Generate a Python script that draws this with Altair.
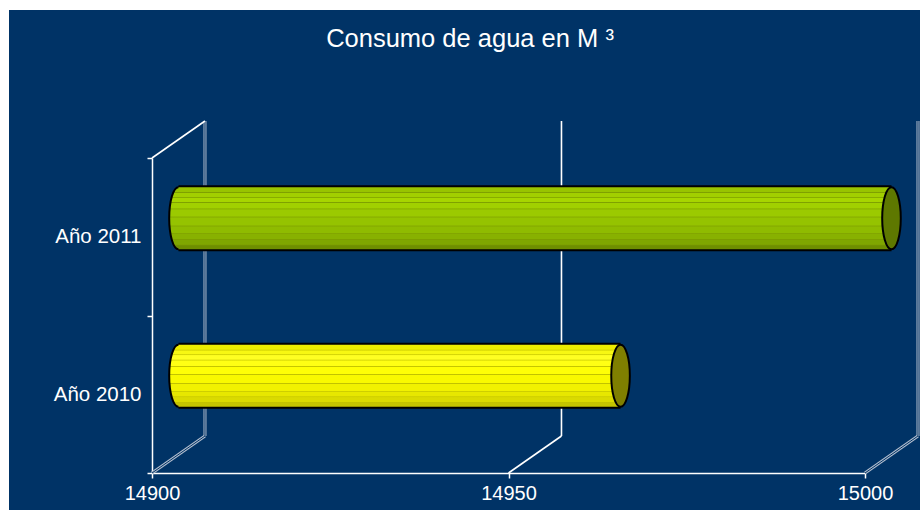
import altair as alt
import pandas as pd

# ---------------- data ----------------
categories = ["Año 2011", "Año 2010"]
values = [15000, 14962]
x_ticks = [14900, 14950, 15000]
x_min, x_max = 14900, 15000
title_text = "Consumo de agua en M ³"

# ---------------- styling ----------------
BG = "#003366"
FONT = "Liberation Sans"
PLOT_W, PLOT_H = 766, 352
FRONT_RANGE = [0, 713]          # front x axis pixels
Y_RANGE = [37, 352]             # front y axis pixels
DEPTH_PX_Y = 37                 # 3D depth (vertical)
DEPTH_X = 7.43                  # 3D depth in x units (back wall)
MID_X = DEPTH_X / 2
MID_PX_Y = DEPTH_PX_Y / 2

facet_edges = [0, 0.086, 0.162, 0.247, 0.35, 0.48, 0.625, 0.75, 0.84, 0.93, 1]
green_facets = ["#98C400", "#A2CF00", "#A7D500", "#A1D000", "#9BCA00",
                "#95C300", "#8FBB00", "#88B100", "#7FA600", "#6E8E00"]
yellow_facets = ["#EDED00", "#F8F812", "#FFFF22", "#FFFF14", "#FFFF06",
                 "#F9F900", "#F1F100", "#E7E700", "#DADA00", "#C4C400"]
body_facets = [green_facets, yellow_facets]
line_colors = ["#7C9C00", "#C2C200"]
cap_colors = ["#5E7800", "#7F7F00"]


def cyl_gradient(facets, line):
    stops = []
    n = len(facets)
    for i, c in enumerate(facets):
        a, b = facet_edges[i], facet_edges[i + 1]
        if i > 0:
            stops.append(alt.GradientStop(offset=a, color=line))
            stops.append(alt.GradientStop(offset=a + 0.012, color=c))
        else:
            stops.append(alt.GradientStop(offset=a, color=c))
        stops.append(alt.GradientStop(offset=(b - 0.012) if i < n - 1 else b, color=c))
    return alt.LinearGradient(gradient="linear", stops=stops, x1=0, x2=0, y1=0, y2=1)


ELL_H = 62
ELL_SHAPE = "M0,-1 A0.30,1 0 1,1 0,1 A0.30,1 0 1,1 0,-1 Z"

sx = alt.Scale(domain=[x_min, x_max], range=FRONT_RANGE, nice=False, zero=False)
sy = alt.Scale(domain=categories, range=Y_RANGE, paddingInner=0, paddingOuter=0)

x_axis = alt.Axis(values=x_ticks, title=None, format="d", labelColor="white",
                  labelFontSize=20, labelFont=FONT, labelPadding=5, labelFlush=False,
                  tickColor="white", tickSize=5, tickWidth=1.5,
                  domainColor="white", domainWidth=1.5, grid=False)
y_axis = alt.Axis(title=None, labelColor="white", labelFontSize=20.5, labelFont=FONT,
                  labelPadding=6, tickBand="extent", tickColor="white", tickSize=5,
                  tickWidth=1.5, domainColor="white", domainWidth=1.5, grid=False)


def X(field):
    return alt.X(field, scale=sx, axis=x_axis)


def Y(field):
    return alt.Y(field, scale=sy, axis=y_axis)


# ---------------- tables ----------------
ticks_df = pd.DataFrame({"v": x_ticks})
ticks_df["xb"] = ticks_df["v"] + DEPTH_X
walls_df = ticks_df[ticks_df["v"] != 14950]
grid_df = ticks_df[ticks_df["v"] == 14950]
corner_df = pd.DataFrame({"v": [x_min], "xb": [x_min + DEPTH_X]})
one = pd.DataFrame({"t": [title_text]})

layers = []

# white strips on top / left of the picture frame
layers.append(alt.Chart(one).mark_rect(color="white").encode(
    x=alt.value(-152), x2=alt.value(PLOT_W + 2), y=alt.value(-121), y2=alt.value(-111)))
layers.append(alt.Chart(one).mark_rect(color="white").encode(
    x=alt.value(-152), x2=alt.value(-143), y=alt.value(-121), y2=alt.value(PLOT_H + 37)))

# title
layers.append(alt.Chart(one).mark_text(color="white", fontSize=25.5, font=FONT,
                                       align="center", baseline="alphabetic").encode(
    text="t:N", x=alt.value(318), y=alt.value(-74)))

# faint double wall edges
for w, col in [(3, "#aebacb"), (1, BG)]:
    layers.append(alt.Chart(walls_df).mark_rule(color=col, strokeWidth=w).encode(
        x=X("xb:Q"), y=alt.value(0), y2=alt.value(Y_RANGE[1] - DEPTH_PX_Y)))
    layers.append(alt.Chart(walls_df).mark_rule(color=col, strokeWidth=w).encode(
        x=X("v:Q"), x2="xb:Q",
        y=alt.value(Y_RANGE[1]), y2=alt.value(Y_RANGE[1] - DEPTH_PX_Y)))

# solid grid line at 14950
layers.append(alt.Chart(grid_df).mark_rule(color="white", strokeWidth=1.6).encode(
    x=X("xb:Q"), y=alt.value(0), y2=alt.value(Y_RANGE[1] - DEPTH_PX_Y)))
layers.append(alt.Chart(grid_df).mark_rule(color="white", strokeWidth=1.6).encode(
    x=X("v:Q"), x2="xb:Q",
    y=alt.value(Y_RANGE[1]), y2=alt.value(Y_RANGE[1] - DEPTH_PX_Y)))

# top-left depth edge
layers.append(alt.Chart(corner_df).mark_rule(color="white", strokeWidth=1.6).encode(
    x=X("v:Q"), x2="xb:Q", y=alt.value(Y_RANGE[0]), y2=alt.value(0)))

# cylinders
for i, (cat, val) in enumerate(zip(categories, values)):
    df = pd.DataFrame({"cat": [cat], "x0": [x_min + MID_X], "x1": [val + MID_X]})
    grad = cyl_gradient(body_facets[i], line_colors[i])
    base = alt.Chart(df)
    # black outline
    layers.append(base.mark_bar(color="black", size=ELL_H + 4, yOffset=-MID_PX_Y).encode(
        x=X("x0:Q"), x2="x1:Q", y=Y("cat:N")))
    # rounded left end
    layers.append(base.mark_point(shape=ELL_SHAPE, size=ELL_H ** 2, filled=True, fill=grad,
                                  stroke="black", strokeWidth=2, opacity=1,
                                  yOffset=-MID_PX_Y).encode(
        x=X("x0:Q"), y=Y("cat:N")))
    # body
    layers.append(base.mark_bar(fill=grad, size=ELL_H, yOffset=-MID_PX_Y).encode(
        x=X("x0:Q"), x2="x1:Q", y=Y("cat:N")))
    # end cap
    layers.append(base.mark_point(shape=ELL_SHAPE, size=ELL_H ** 2, filled=True,
                                  fill=cap_colors[i], stroke="black", strokeWidth=2,
                                  opacity=1, yOffset=-MID_PX_Y).encode(
        x=X("x1:Q"), y=Y("cat:N")))

chart = alt.layer(*layers).properties(
    width=PLOT_W, height=PLOT_H,
    autosize=alt.AutoSizeParams(type="none"),
    padding={"left": 152, "top": 121, "right": 2, "bottom": 37},
    background=BG,
).configure_view(stroke=None)

chart.save("out.html", embed_options={"renderer": "svg", "actions": False})
